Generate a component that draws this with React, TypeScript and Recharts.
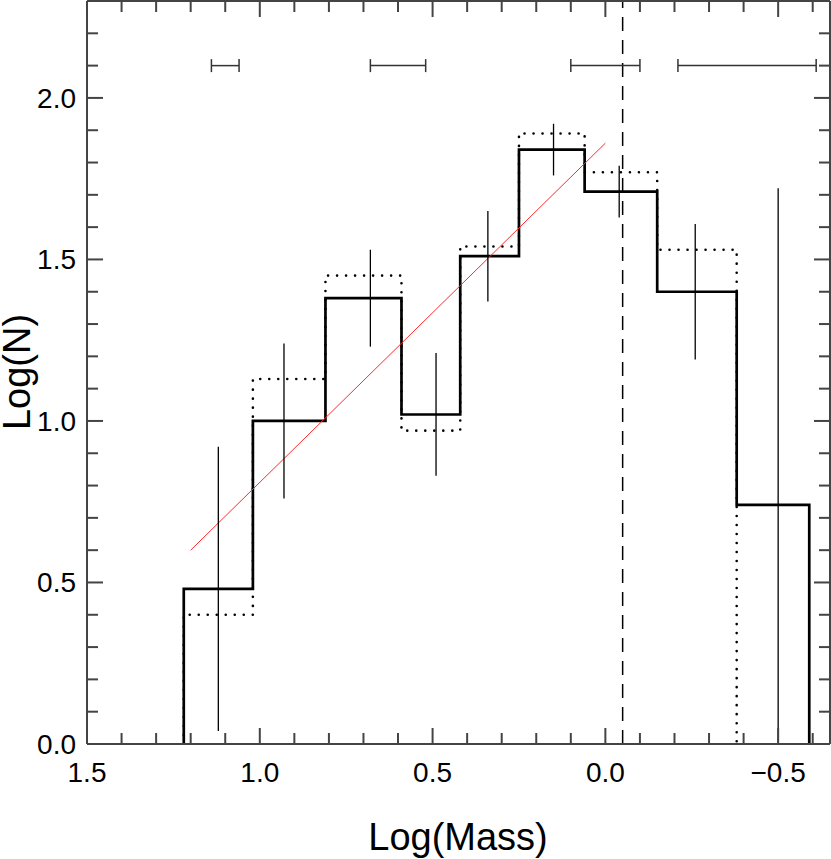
import { ComposedChart, Line, Scatter, ErrorBar, XAxis, YAxis, ReferenceLine } from 'recharts';

// bin edges in Log(Mass), left to right (descending mass)
const binEdges = [1.22, 1.02, 0.81, 0.59, 0.42, 0.25, 0.06, -0.15, -0.38, -0.59];
// solid histogram: Log(N) per bin
const logNSolid = [0.48, 1.0, 1.38, 1.02, 1.51, 1.84, 1.71, 1.40, 0.74];
// dotted histogram: Log(N) per bin (no counts in the last bin)
const logNDotted = [0.40, 1.13, 1.45, 0.97, 1.54, 1.89, 1.77, 1.53];
// poisson error bars: mean mass of bin and +/- error on Log(N)
const errMass = [1.12, 0.93, 0.68, 0.49, 0.34, 0.15, -0.04, -0.26, -0.50];
const errLogN = [0.44, 0.24, 0.15, 0.19, 0.14, 0.08, 0.08, 0.21, 0.98];
// power-law fit
const fitMass = [1.2, 0.0];
const fitLogN = [0.6, 1.86];
// typical mass uncertainty bars along the top
const massBarCentre = [1.10, 0.60, 0.0, -0.41];
const massBarHalf = [0.04, 0.08, 0.10, 0.20];
const massBarLevel = 2.1;
// completeness limit
const completeness = -0.05;

const xMajor = [1.5, 1.0, 0.5, 0.0, -0.5];
const xTicks = [1.5, 1.4, 1.3, 1.2, 1.1, 1.0, 0.9, 0.8, 0.7, 0.6, 0.5, 0.4, 0.3, 0.2, 0.1, 0.0,
  -0.1, -0.2, -0.3, -0.4, -0.5, -0.6];
const yMajor = [0.0, 0.5, 1.0, 1.5, 2.0];
const yTicks = [0.0, 0.1, 0.2, 0.3, 0.4, 0.5, 0.6, 0.7, 0.8, 0.9, 1.0, 1.1, 1.2, 1.3, 1.4, 1.5,
  1.6, 1.7, 1.8, 1.9, 2.0, 2.1, 2.2];

function stepPoints(edges: number[], counts: number[]) {
  const n = counts.length;
  const pts = [{ x: edges[0], y: 0 }];
  counts.forEach((c, i) => pts.push({ x: edges[i], y: c }));
  pts.push({ x: edges[n], y: counts[n - 1] });
  pts.push({ x: edges[n], y: 0 });
  return pts;
}

const solidData = stepPoints(binEdges, logNSolid);
const dottedData = stepPoints(binEdges, logNDotted);
// lower half of an error bar stops at the x axis
const errData = errMass.map((m, i) => ({
  x: m,
  y: logNSolid[i],
  err: [Math.min(errLogN[i], logNSolid[i]), errLogN[i]],
}));
const fitData = fitMass.map((m, i) => ({ x: m, y: fitLogN[i] }));
const massBarData = massBarCentre.map((c, i) => ({ x: c, y: massBarLevel, err: massBarHalf[i] }));

const fmtX = (v: number) => (v < 0 ? `\u2212${Math.abs(v).toFixed(1)}` : v.toFixed(1));
const fmtY = (v: number) => v.toFixed(1);
const isMajor = (list: number[], v: number) => list.some((m) => Math.abs(m - v) < 1e-6);

const axisStroke = '#444';
const xDomain: [number, number] = [-0.65, 1.5];
const yDomain: [number, number] = [0, 2.3];
const thin = 0.01; // axes take no room, margins place the plot
const MAJOR = 16;
const MINOR = 11;

// ticks point into the plot; only bottom and left carry labels
function makeTick(side: 'bottom' | 'top' | 'left' | 'right') {
  return (props: any) => {
    const { x, y, payload } = props;
    const v = payload.value as number;
    const major = isMajor(side === 'bottom' || side === 'top' ? xMajor : yMajor, v);
    const len = major ? MAJOR : MINOR;
    let line;
    if (side === 'bottom') line = <line x1={x} x2={x} y1={y} y2={y - len} />;
    else if (side === 'top') line = <line x1={x} x2={x} y1={y} y2={y + len} />;
    else if (side === 'left') line = <line x1={x} x2={x + len} y1={y} y2={y} />;
    else line = <line x1={x} x2={x - len} y1={y} y2={y} />;
    return (
      <g>
        <g stroke={axisStroke} strokeWidth={2}>{line}</g>
        {major && side === 'bottom' && (
          <text x={x} y={y + 38} textAnchor="middle" fontSize={28} fill="#000">{fmtX(v)}</text>
        )}
        {major && side === 'left' && (
          <text x={x - 11} y={y + 10} textAnchor="end" fontSize={28} fill="#000">{fmtY(v)}</text>
        )}
      </g>
    );
  };
}

export default function App() {
  return (
    <div style={{ position: 'absolute', left: 0, top: 0, fontFamily: '"Liberation Sans", Arial, sans-serif' }}>
      <ComposedChart width={831} height={859} margin={{ top: 1, right: 1, bottom: 115, left: 87 }}>
        <XAxis xAxisId="x" type="number" dataKey="x" domain={xDomain} reversed allowDataOverflow ticks={xTicks} interval={0}
          height={thin} tickSize={0} tickMargin={0} tickLine={false} tick={makeTick('bottom')} stroke={axisStroke} strokeWidth={2} />
        <XAxis xAxisId="xTop" orientation="top" type="number" dataKey="x" domain={xDomain} reversed allowDataOverflow ticks={xTicks}
          interval={0} height={thin} tickSize={0} tickMargin={0} tickLine={false} tick={makeTick('top')} stroke={axisStroke} strokeWidth={2} />
        <YAxis yAxisId="y" type="number" dataKey="y" domain={yDomain} allowDataOverflow ticks={yTicks} interval={0}
          width={thin} tickSize={0} tickMargin={0} tickLine={false} tick={makeTick('left')} stroke={axisStroke} strokeWidth={2} />
        <YAxis yAxisId="yRight" orientation="right" type="number" dataKey="y" domain={yDomain} allowDataOverflow ticks={yTicks}
          interval={0} width={thin} tickSize={0} tickMargin={0} tickLine={false} tick={makeTick('right')} stroke={axisStroke} strokeWidth={2} />

        <ReferenceLine xAxisId="x" yAxisId="y" x={completeness} stroke="#000" strokeWidth={1.5} strokeDasharray="14 9" />

        <Line xAxisId="x" yAxisId="y" data={dottedData} dataKey="y" type="stepAfter" stroke="#000" strokeWidth={2.6}
          strokeDasharray="0.01 9" strokeLinecap="round" dot={false} activeDot={false} isAnimationActive={false} />
        <Line xAxisId="x" yAxisId="y" data={solidData} dataKey="y" type="stepAfter" stroke="#000" strokeWidth={2.7}
          dot={false} activeDot={false} isAnimationActive={false} />
        <Line xAxisId="x" yAxisId="y" data={fitData} dataKey="y" type="linear" stroke="#ff2a2a" strokeWidth={1}
          dot={false} activeDot={false} isAnimationActive={false} />

        <Scatter xAxisId="x" yAxisId="y" data={errData} dataKey="y" shape={() => <g />} isAnimationActive={false}>
          <ErrorBar dataKey="err" direction="y" width={0} stroke="#000" strokeWidth={1.3} isAnimationActive={false} />
        </Scatter>
        <Scatter xAxisId="x" yAxisId="y" data={massBarData} dataKey="y" shape={() => <g />} isAnimationActive={false}>
          <ErrorBar dataKey="err" direction="x" width={6.5} stroke="#333" strokeWidth={1.5} isAnimationActive={false} />
        </Scatter>

        <text x={458} y={850} textAnchor="middle" fontSize={38} fill="#000">Log(Mass)</text>
        <text transform="translate(30,372) rotate(-90)" textAnchor="middle" fontSize={38} fill="#000">Log(N)</text>
      </ComposedChart>
    </div>
  );
}
